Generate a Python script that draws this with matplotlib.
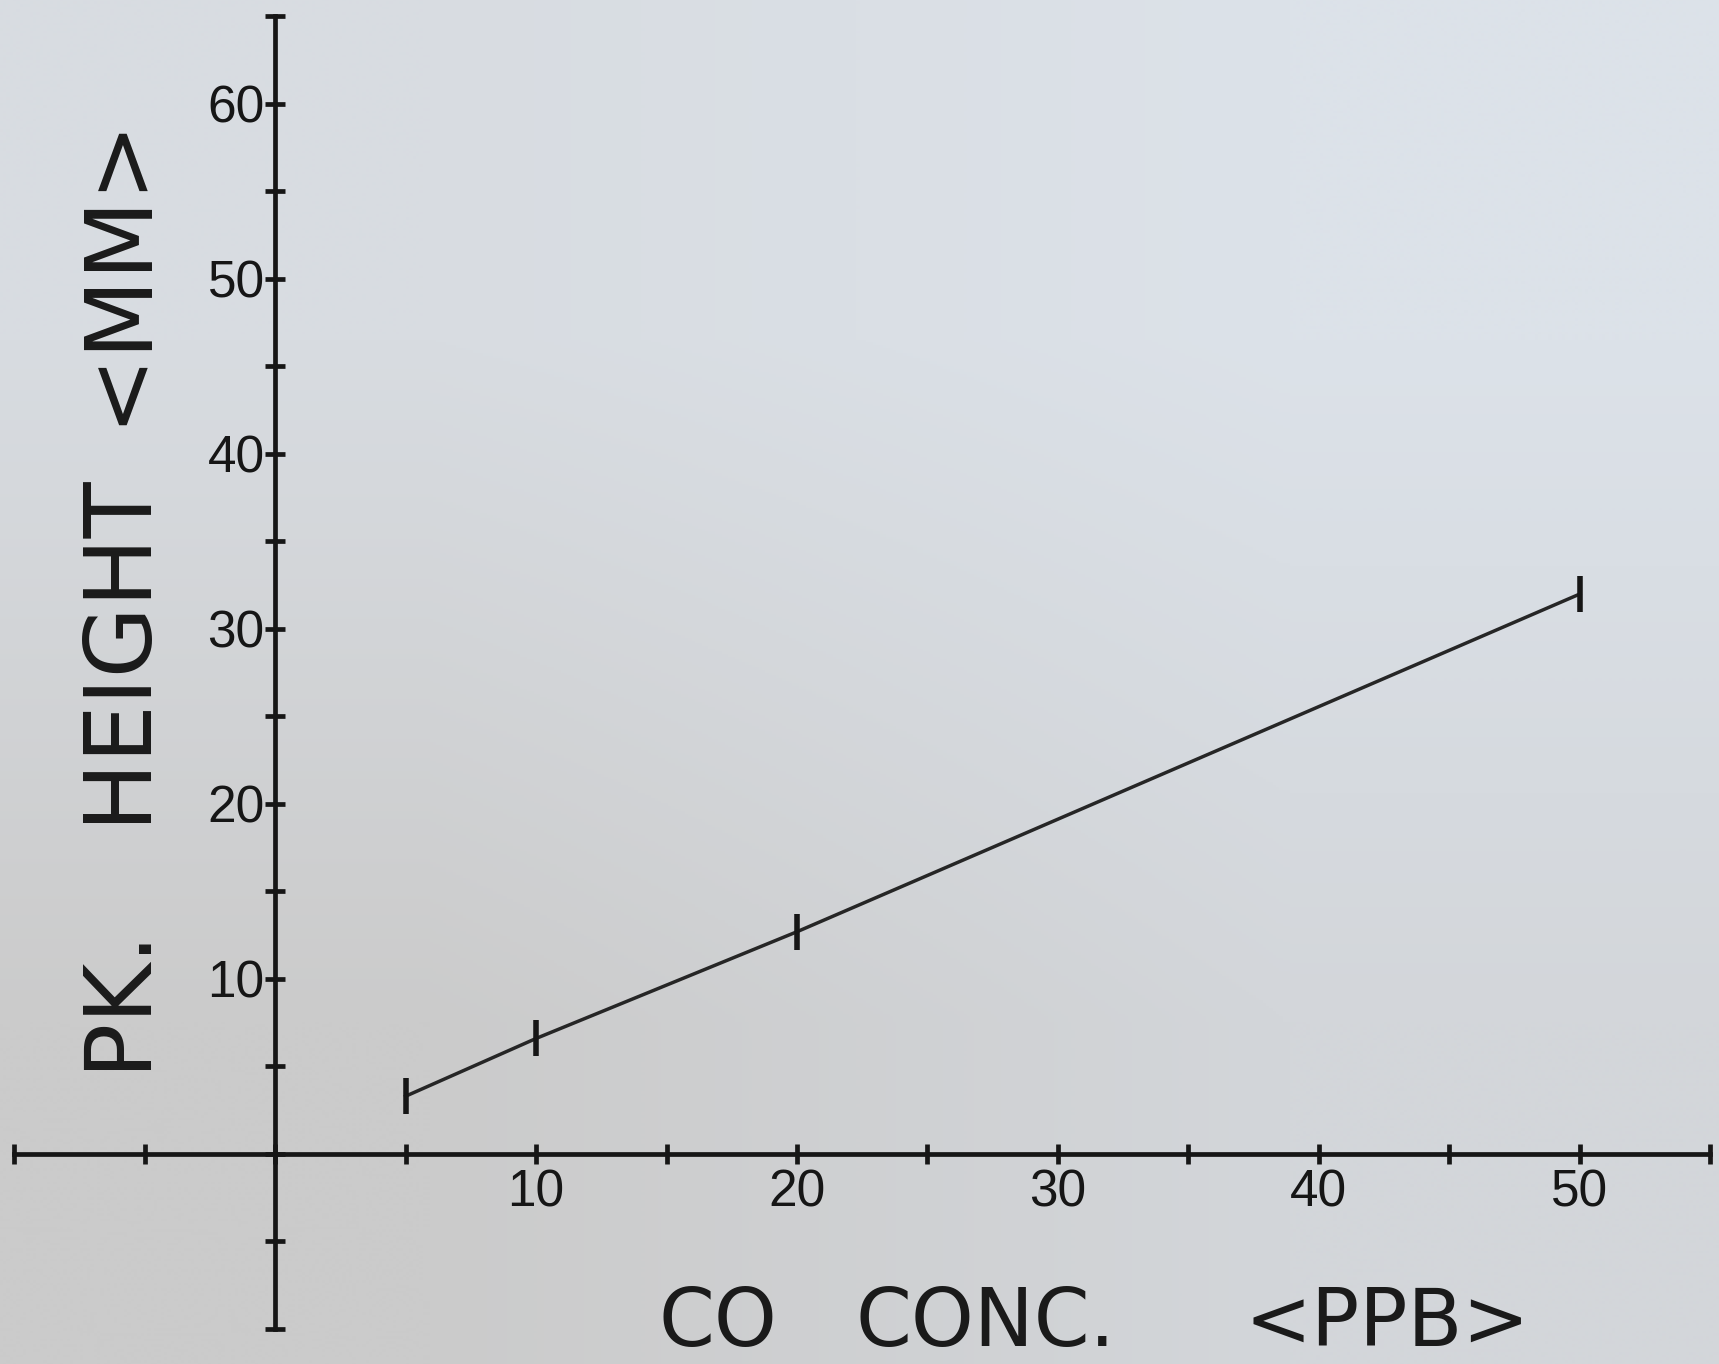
import numpy as np
import matplotlib
matplotlib.use('Agg')
import matplotlib.pyplot as plt
from matplotlib.colors import to_rgb

# CO calibration
conc = [5, 10, 20, 50]          # PPB
height = [3.3, 6.6, 12.7, 32.0]  # MM

x_ticks = list(range(-10, 56, 5))
y_ticks = list(range(-10, 66, 5))
x_labels = {10: '10', 20: '20', 30: '30', 40: '40', 50: '50'}
y_labels = {10: '10', 20: '20', 30: '30', 40: '40', 50: '50', 60: '60'}

# axis titles, one piece per word (the plotter spaced them out)
xlabel_words = ['CO', 'CONC.', '<PPB>']
ylabel_words = ['PK.', 'HEIGHT', '<MM>']

ink = '#161616'
W, H = 1719, 1364

fig = plt.figure(figsize=(W / 100, H / 100), dpi=100)
ax = fig.add_axes([0, 0, 1, 1])

# paper background, slightly uneven light
bg = np.array([[to_rgb('#d8dce1'), to_rgb('#dce2e9')],
               [to_rgb('#cbcbcb'), to_rgb('#d3d6da')]])
ax.imshow(bg, extent=[0, 1, 0, 1], transform=ax.transAxes, aspect='auto',
          interpolation='bilinear', zorder=0)

ax.set_xlim(-10.54, 55.33)
ax.set_ylim(-12.0, 65.94)

for s in ['top', 'right']:
    ax.spines[s].set_visible(False)
ax.spines['left'].set_position(('data', 0))
ax.spines['bottom'].set_position(('data', 0))
ax.spines['left'].set_bounds(-10, 65)
ax.spines['bottom'].set_bounds(-10, 55)
for s in ['left', 'bottom']:
    ax.spines[s].set_linewidth(3.4)
    ax.spines[s].set_color(ink)

ax.set_xticks(x_ticks)
ax.set_xticklabels([x_labels.get(t, '') for t in x_ticks])
ax.set_yticks(y_ticks)
ax.set_yticklabels([y_labels.get(t, '') for t in y_ticks])
ax.tick_params(direction='inout', length=15, width=3.4, color=ink,
               labelsize=37, labelcolor=ink,
               labelfontfamily=['Liberation Sans', 'DejaVu Sans'])
ax.tick_params(axis='x', pad=3)
ax.tick_params(axis='y', pad=0)

ax.plot(conc, height, color='#262626', lw=2.5, zorder=3)
ax.plot(conc, height, ls='none', marker='|', ms=26, mew=4, color=ink, zorder=4)

# x title words: left edges in pixels
for word, px in zip(xlabel_words, [658, 855, 1244]):
    fig.text(px / W, 18 / H, word, fontsize=57.6, family='DejaVu Sans',
             color='#1a1a1a', ha='left', va='baseline')

# y title words: start (bottom) of each word in pixels from the top
for word, py in zip(ylabel_words, [1069, 822, 425]):
    fig.text(143 / W, 1 - py / H, word, rotation=90, rotation_mode='anchor',
             ha='left', va='baseline', fontsize=66, family='DejaVu Sans',
             color='#1a1a1a')

fig.savefig('out.png', dpi=100)
